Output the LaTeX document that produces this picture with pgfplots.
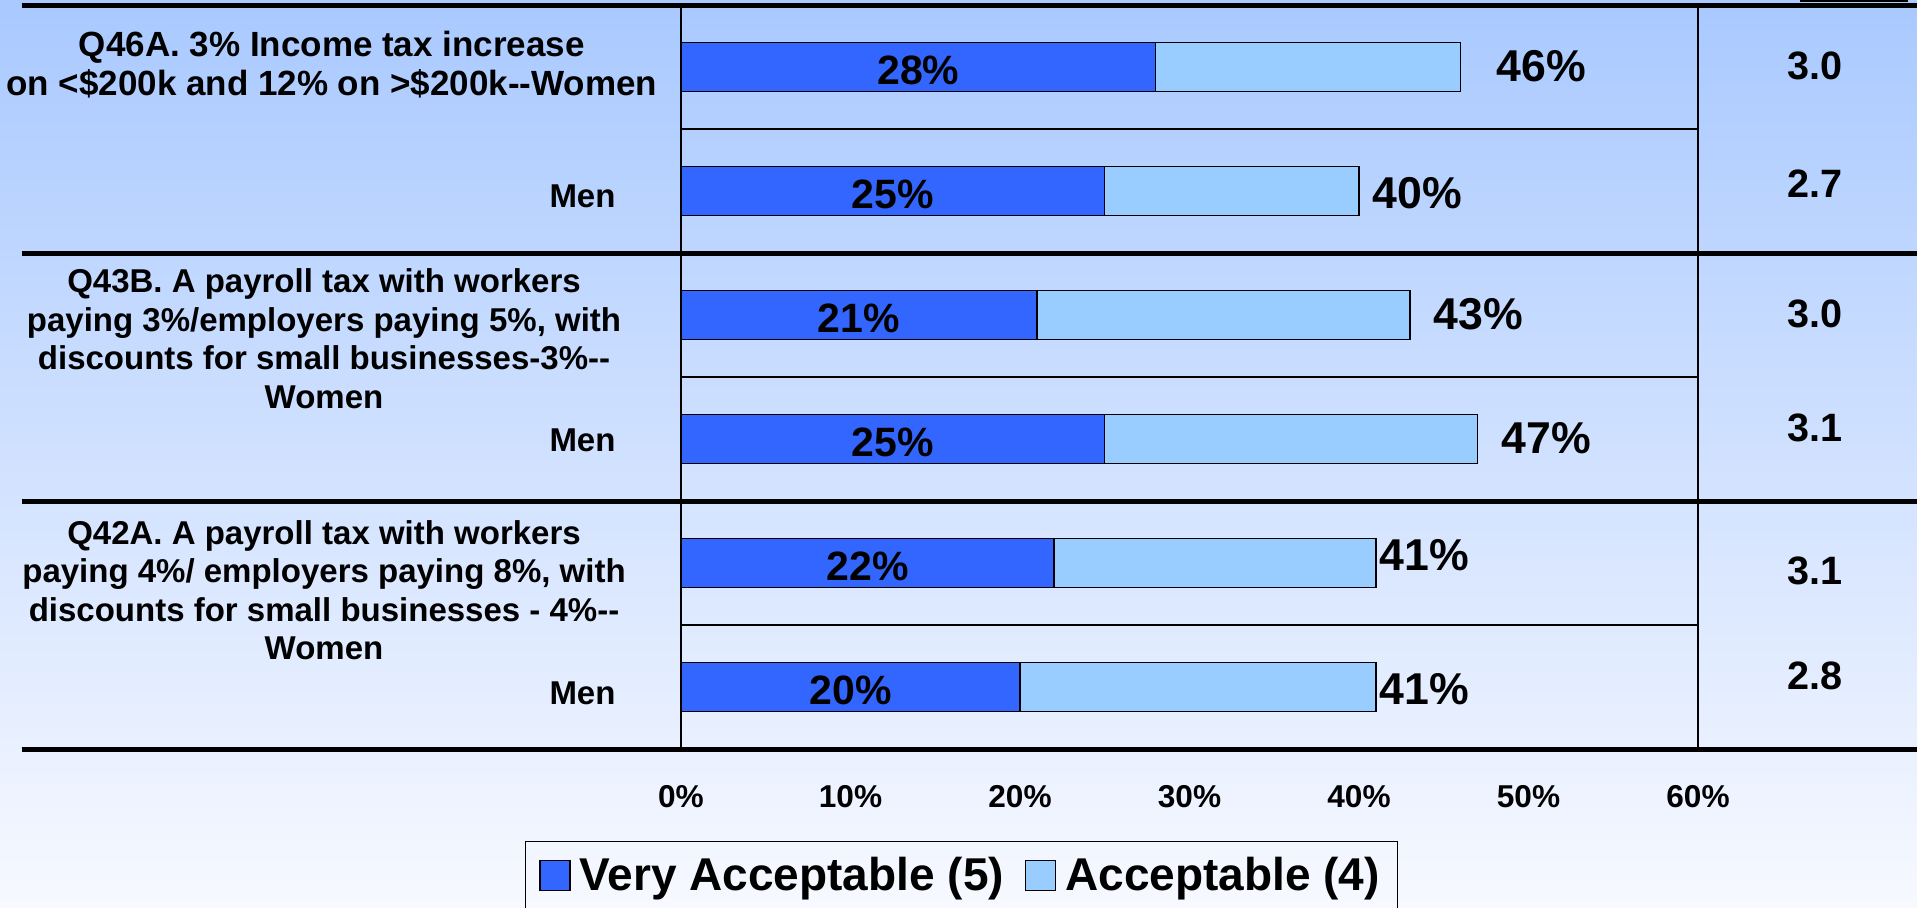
\documentclass[border=0pt]{standalone}
\usepackage{pgfplots}
\pgfplotsset{compat=1.18}
\usepackage{pgfplotstable}
\usepackage{fontspec}
\setmainfont{Liberation Sans}

\definecolor{veryacc}{HTML}{3366FF}
\definecolor{acc}{HTML}{99CCFF}
\definecolor{bgtop}{HTML}{A9C9FF}
\definecolor{bgbottom}{HTML}{F7F9FF}

% rows from the top: Q46A women/men, Q43B women/men, Q42A women/men
\pgfplotstableread{
row very acc
0   28   18
1   25   15
2   21   22
3   25   22
4   22   19
5   20   21
}\bars

% totals (very + acceptable), set to the right of each bar
\pgfplotstableread{
pos  row   total
48.1 -0.01 46
40.8 1.02  40
44.4 1.99  43
48.4 2.99  47
41.2 3.94  41
41.2 5.02  41
}\totals

% mean scores, right-hand column
\pgfplotstableread{
pos  row   mean
66.9 -0.01 3.0
66.9 0.94  2.7
66.9 1.99  3.0
66.9 2.91  3.1
66.9 4.06  3.1
66.9 4.91  2.8
}\means

\pgfplotsset{
  panel/.style={
    at={(340.5pt,79pt)}, anchor=south west,
    scale only axis, width=508.5pt, height=372pt,
    xmin=0, xmax=60, ymin=-0.5, ymax=5.5, y dir=reverse,
    clip=false,
  },
}
\tikzset{lbl/.style={font=\fontsize{16.5}{19.3}\selectfont}}

\begin{document}
\bfseries
\begin{tikzpicture}
\useasboundingbox (0,0) rectangle (958.5pt,453.5pt);
\clip (0,0) rectangle (958.5pt,453.5pt);
\shade[top color=bgtop, bottom color=bgbottom] (0,0) rectangle (958.5pt,453.5pt);
\draw[line width=1pt] (900pt,453pt) -- (954pt,453pt);

\begin{axis}[panel,
  xbar stacked, bar width=24.5pt,
  ytick=\empty,
  xtick={0,10,...,60},
  xticklabels={0\%,10\%,20\%,30\%,40\%,50\%,60\%},
  xtick style={draw=none},
  xticklabel style={anchor=center, yshift=-24pt, font=\fontsize{15.8}{18}\selectfont},
  axis line style={line width=0.6pt},
  legend style={at={(-0.1535,-0.1237)}, anchor=north west, draw=black, fill=none,
    line width=0.6pt, font=\fontsize{23}{27}\selectfont, legend columns=2,
    inner xsep=7pt, inner ysep=6pt,
    /tikz/every odd column/.append style={column sep=2.5pt},
    /tikz/every even column/.append style={column sep=8.5pt}},
  legend cell align=left,
  legend image code/.code={\draw[#1, line width=0.6pt] (0pt,-7.5pt) rectangle (15pt,7.5pt);},
]
\addplot[fill=veryacc, draw=black, line width=0.7pt] table[x=very, y=row] {\bars};
\addplot[fill=acc, draw=black, line width=0.7pt] table[x=acc, y=row] {\bars};
\legend{Very Acceptable (5), Acceptable (4)}

% thin lines between women and men rows
\draw[line width=0.6pt] (axis cs:0,0.5) -- (axis cs:60,0.5);
\draw[line width=0.6pt] (axis cs:0,2.5) -- (axis cs:60,2.5);
\draw[line width=0.6pt] (axis cs:0,4.5) -- (axis cs:60,4.5);
% thick section rules
\draw[line width=2.5pt] (axis cs:-38.9,-0.5) -- (axis cs:75,-0.5);
\draw[line width=2.5pt] (axis cs:-38.9,1.5) -- (axis cs:75,1.5);
\draw[line width=2.5pt] (axis cs:-38.9,3.5) -- (axis cs:75,3.5);
\draw[line width=2.5pt] (axis cs:-38.9,5.5) -- (axis cs:75,5.5);

% question labels
\node[align=center, font=\fontsize{17.5}{19.3}\selectfont] at (axis cs:-20.6,-0.02)
  {Q46A. 3\% Income tax increase\\on <\$200k and 12\% on >\$200k-{}-Women};
\node[align=center, lbl] at (axis cs:-21.06,2.19)
  {Q43B. A payroll tax with workers\\paying 3\%/employers paying 5\%, with\\discounts for small businesses-3\%-{}-\\Women};
\node[align=center, lbl] at (axis cs:-21.06,4.22)
  {Q42A. A payroll tax with workers\\paying 4\%/ employers paying 8\%, with\\discounts for small businesses - 4\%-{}-\\Women};
\node[anchor=east, inner sep=0pt, lbl] at (axis cs:-3.84,1.04) {Men};
\node[anchor=east, inner sep=0pt, lbl] at (axis cs:-3.84,3.01) {Men};
\node[anchor=east, inner sep=0pt, lbl] at (axis cs:-3.84,5.05) {Men};
\end{axis}

\begin{axis}[panel, hide axis]
% very acceptable share, centred in its segment
\addplot[draw=none, mark=none, point meta=explicit symbolic,
  nodes near coords={\pgfplotspointmeta\%},
  every node near coord/.append style={anchor=center, inner sep=0pt, yshift=-1.5pt,
    font=\fontsize{20.5}{24}\selectfont, text=black}]
  table[x expr=\thisrow{very}/2, y=row, meta=very] {\bars};
\addplot[draw=none, mark=none, point meta=explicit symbolic,
  nodes near coords={\pgfplotspointmeta\%},
  every node near coord/.append style={anchor=west, inner sep=0pt,
    font=\fontsize{22.3}{26}\selectfont, text=black}]
  table[x=pos, y=row, meta=total] {\totals};
\addplot[draw=none, mark=none, point meta=explicit symbolic,
  nodes near coords,
  every node near coord/.append style={anchor=center, inner sep=0pt,
    font=\fontsize{19.8}{24}\selectfont, text=black}]
  table[x=pos, y=row, meta=mean] {\means};
\end{axis}
\end{tikzpicture}
\end{document}
